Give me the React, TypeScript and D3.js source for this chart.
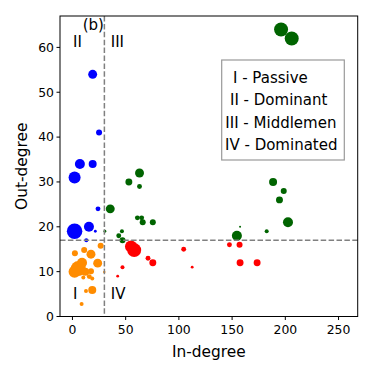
import React from "react";
import * as d3 from "d3";

// [in-degree, out-degree, weight]
const passive: [number, number, number][] = [
  [26.5, 15.8, 9], [11, 14.8, 9], [2.3, 14.1, 9], [17.4, 13.9, 20], [23.7, 11.9, 20],
  [5.5, 10.7, 56], [2, 10, 36], [9, 12, 25], [12, 10, 16], [17.4, 10.1, 9],
  [15.8, 8.9, 6], [18.6, 8.5, 4], [10.2, 8.7, 4], [29.9, 9.9, 1.5], [18.6, 5.9, 16],
  [12.7, 5.7, 4], [8.6, 2.8, 4],
];
const dominant: [number, number, number][] = [
  [19, 54, 20], [25, 41, 9], [7, 34, 25], [19, 34, 16], [2, 31, 36],
  [24, 24, 6], [2, 19, 60], [15.5, 20, 25], [21.5, 19, 2], [13, 17, 4],
];
const middlemen: [number, number, number][] = [
  [196, 64, 49], [206, 62, 49], [63, 32, 20], [53, 30, 12], [63, 29, 6],
  [35.5, 24, 20], [61, 22, 6], [65, 22, 6], [66, 21, 9], [75.5, 21, 9],
  [30.5, 19, 2], [46.5, 19, 4], [43.5, 18, 6], [47, 17, 9], [188.5, 30, 16],
  [198.5, 28, 9], [194.5, 26, 12], [202.5, 21, 25], [182.5, 19, 4], [157.5, 20, 1],
  [154.5, 18, 25],
];
const dominated: [number, number, number][] = [
  [55, 15.6, 36], [58, 14.8, 49], [71, 13, 6], [75.5, 12, 12], [47, 11, 4],
  [42.5, 9, 2], [104.5, 15, 6], [112.5, 11, 2], [147.5, 16, 6], [157, 16, 9],
  [157.5, 12, 12], [173.5, 12, 12],
];

const xTicks = [0, 50, 100, 150, 200, 250];
const yTicks = [0, 10, 20, 30, 40, 50, 60];
const inThreshold = 30;
const outThreshold = 17;
const legendLines = ["I - Passive", "II - Dominant", "III - Middlemen", "IV - Dominated"];

const groups = [
  { pts: passive, color: "#ff8c00" },
  { pts: dominant, color: "#0000ff" },
  { pts: middlemen, color: "#006400" },
  { pts: dominated, color: "#ff0000" },
];

const font = "DejaVu Sans, sans-serif";

export default function App() {
  const left = 60, right = 357.7, top = 16, bottom = 316.5;
  const x = d3.scaleLinear().domain([-11.7, 268]).range([left, right]);
  const y = d3.scaleLinear().domain([0, 67]).range([bottom, top]);
  const r = d3.scaleSqrt().domain([0, 64]).range([0, 8]);

  return (
    <div style={{ position: "absolute", left: 0, top: 0 }}>
      <svg width={374} height={374} style={{ display: "block", fontFamily: font }}>
        <rect width={374} height={374} fill="white" />
        {groups.map((g, gi) =>
          g.pts.map((d, i) => (
            <circle key={gi + "-" + i} cx={x(d[0])} cy={y(d[1])} r={r(d[2])} fill={g.color} />
          ))
        )}
        <line x1={x(inThreshold)} x2={x(inThreshold)} y1={top} y2={bottom}
          stroke="#808080" strokeWidth={1.5} strokeDasharray="5.5,2.4" />
        <line x1={left} x2={right} y1={y(outThreshold)} y2={y(outThreshold)}
          stroke="#808080" strokeWidth={1.5} strokeDasharray="5.5,2.4" />

        {/* quadrant labels */}
        <g fontSize={15} fill="black">
          <text x={x(9.6)} y={y(63.8)}>(b)</text>
          <text x={x(0.5)} y={y(60)}>II</text>
          <text x={x(36)} y={y(60)}>III</text>
          <text x={x(0.5)} y={y(4)}>I</text>
          <text x={x(36)} y={y(4)}>IV</text>
        </g>

        {/* legend box */}
        <rect x={221.7} y={60} width={122.6} height={100} fill="white" stroke="#999" strokeWidth={1.2} />
        <g fontSize={15} fill="black">
          {legendLines.map((t, i) => (
            <text key={t} x={[233, 230, 225.3, 225][i]} y={83 + i * 22.3}>{t}</text>
          ))}
        </g>

        {/* frame */}
        <rect x={left} y={top} width={right - left} height={bottom - top} fill="none" stroke="black" strokeWidth={1} />

        {/* x axis */}
        {xTicks.map(t => (
          <g key={t} transform={`translate(${x(t)},${bottom})`}>
            <line y2={3.5} stroke="black" />
            <text y={17} textAnchor="middle" fontSize={12.4}>{t}</text>
          </g>
        ))}
        {yTicks.map(t => (
          <g key={t} transform={`translate(${left},${y(t)})`}>
            <line x2={-3.5} stroke="black" />
            <text x={-6} dy="0.35em" textAnchor="end" fontSize={12.4}>{t}</text>
          </g>
        ))}
        <text x={(left + right) / 2} y={357} textAnchor="middle" fontSize={15.4}>In-degree</text>
        <text transform={`translate(27,${(top + bottom) / 2}) rotate(-90)`} textAnchor="middle" fontSize={15.4}>Out-degree</text>
      </svg>
    </div>
  );
}
